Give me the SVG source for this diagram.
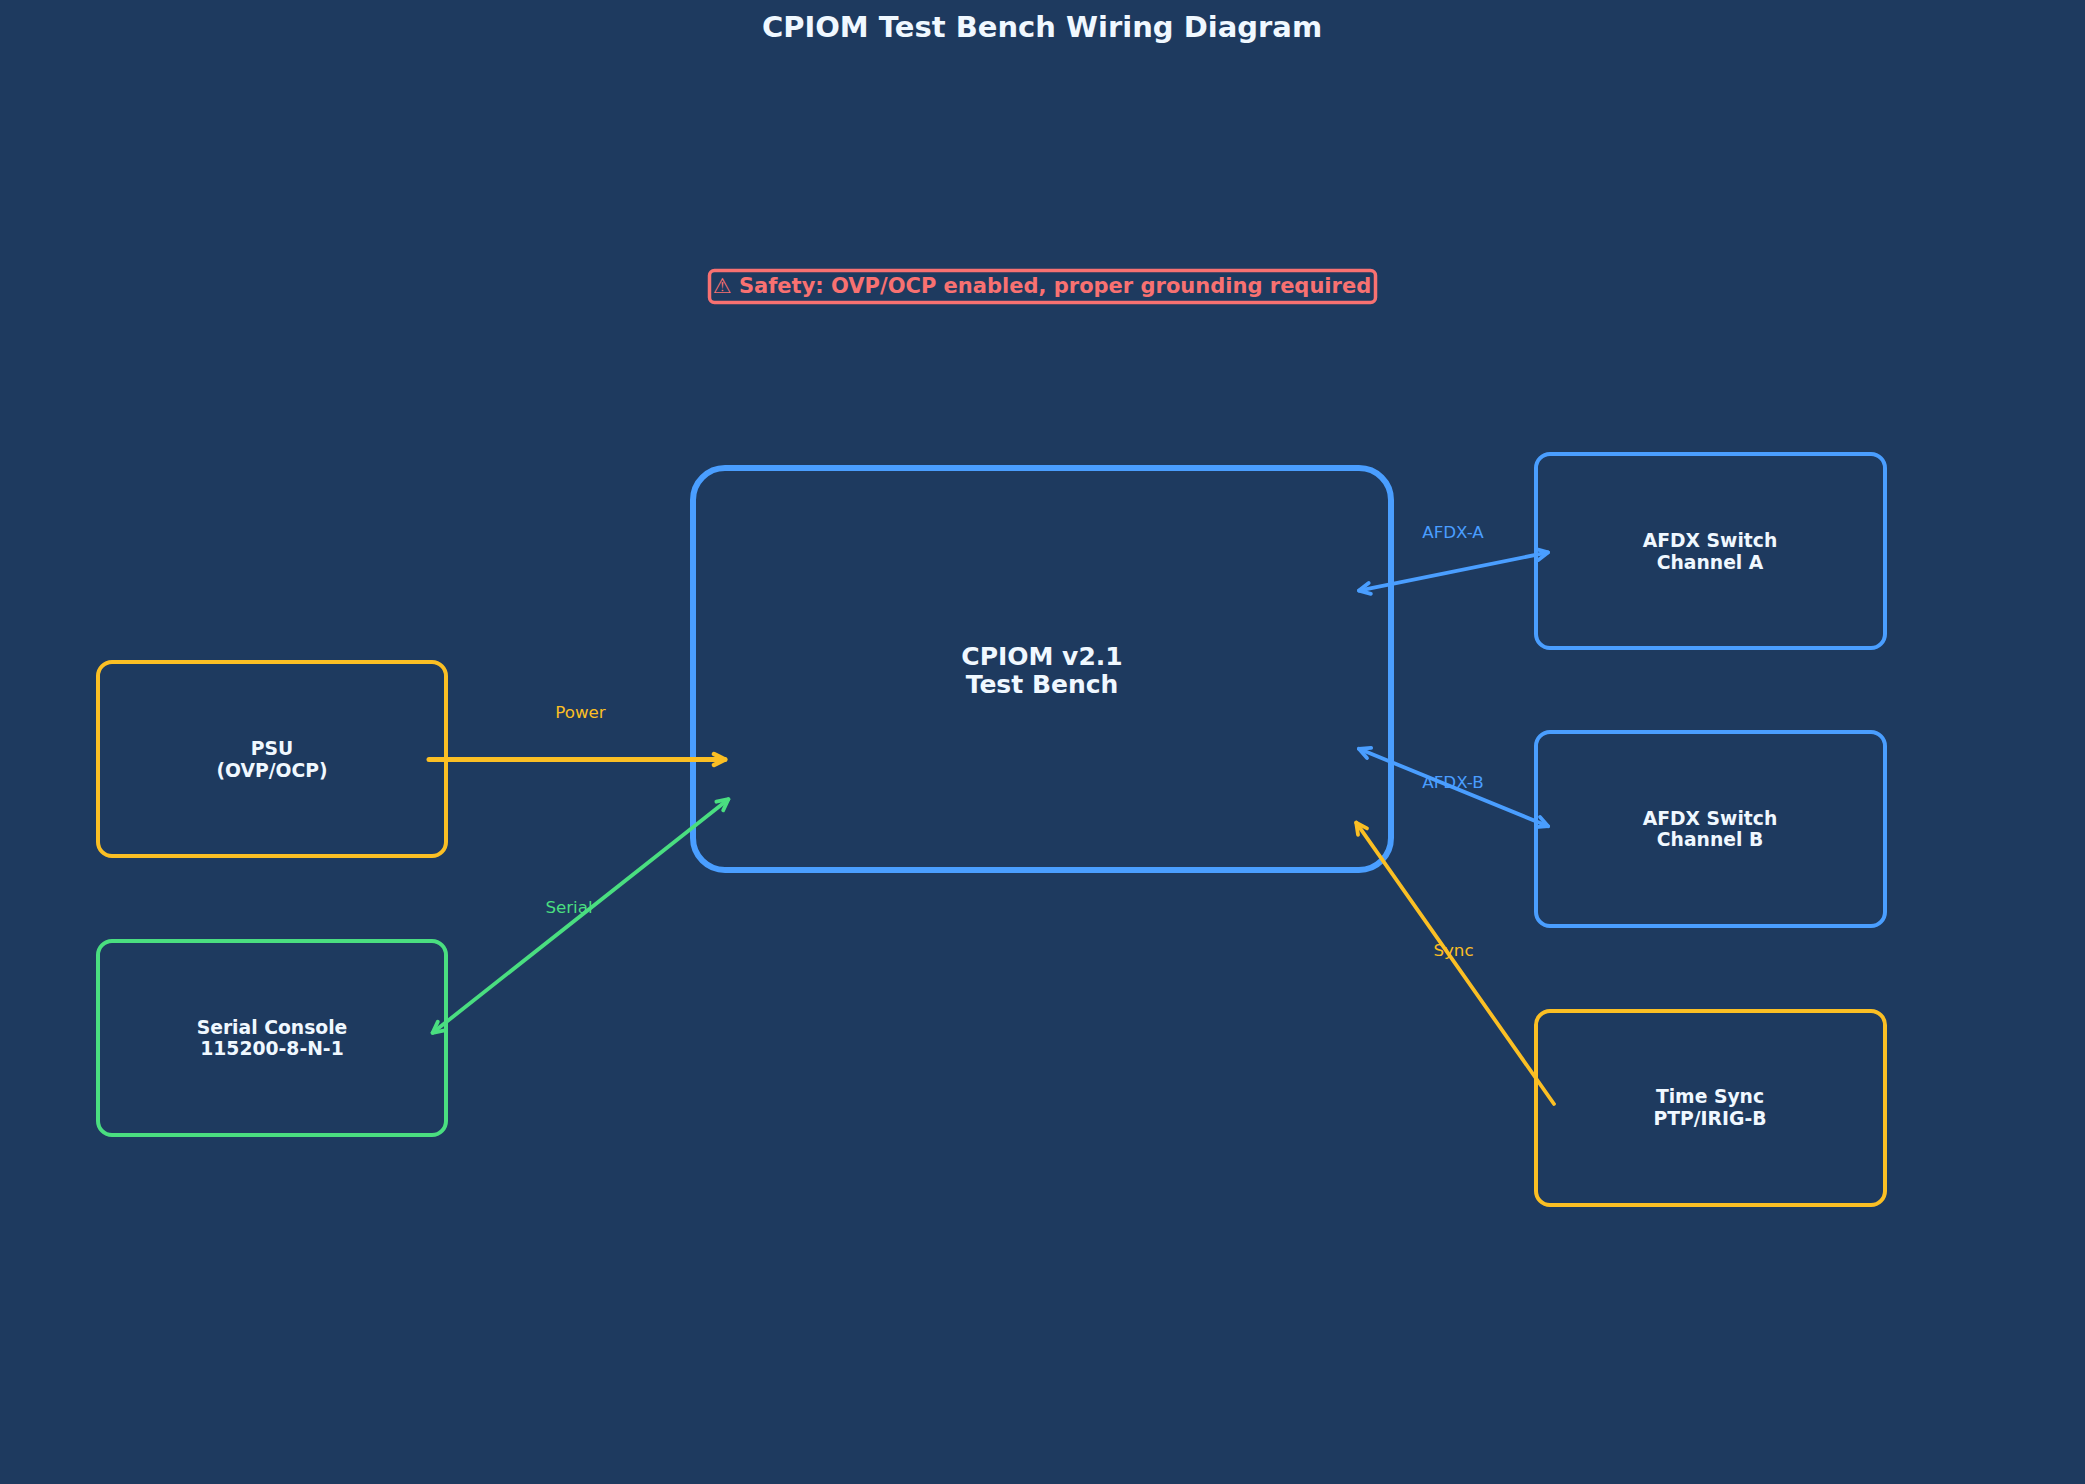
<svg xmlns="http://www.w3.org/2000/svg" width="2085" height="1484" viewBox="0 0 2085 1484">
<style>
  text { font-family: "DejaVu Sans", "Liberation Sans", sans-serif; text-anchor: middle; }
  .title { font-size: 29px; font-weight: bold; fill: #f0f8ff; }
  .safety { font-size: 21px; font-weight: bold; fill: #f87171; }
  .lbl { font-size: 18.75px; font-weight: bold; fill: #f0f8ff; }
  .main { font-size: 25px; font-weight: bold; fill: #f0f8ff; }
  .edge { font-size: 16.7px; }
  .box { fill: #1e3a5f; stroke-width: 4; }
  .conn { fill: none; stroke-linecap: round; }
</style>
<defs>
  <marker id="hY" markerUnits="userSpaceOnUse" viewBox="-16 -10 20 20" refX="0" refY="0" markerWidth="20" markerHeight="20" orient="auto-start-reverse">
    <path d="M-11,-5.5 L0,0 L-11,5.5" fill="none" stroke="#fbbf24" stroke-width="4.5" stroke-linejoin="round" stroke-linecap="round"/>
  </marker>
  <marker id="hY2" markerUnits="userSpaceOnUse" viewBox="-16 -10 20 20" refX="0" refY="0" markerWidth="20" markerHeight="20" orient="auto-start-reverse">
    <path d="M-11,-5.5 L0,0 L-11,5.5" fill="none" stroke="#fbbf24" stroke-width="3.8" stroke-linejoin="round" stroke-linecap="round"/>
  </marker>
  <marker id="hG" markerUnits="userSpaceOnUse" viewBox="-16 -10 20 20" refX="0" refY="0" markerWidth="20" markerHeight="20" orient="auto-start-reverse">
    <path d="M-11,-5.5 L0,0 L-11,5.5" fill="none" stroke="#4ade80" stroke-width="3.8" stroke-linejoin="round" stroke-linecap="round"/>
  </marker>
  <marker id="hB" markerUnits="userSpaceOnUse" viewBox="-16 -10 20 20" refX="0" refY="0" markerWidth="20" markerHeight="20" orient="auto-start-reverse">
    <path d="M-11,-5.5 L0,0 L-11,5.5" fill="none" stroke="#4a9eff" stroke-width="3.8" stroke-linejoin="round" stroke-linecap="round"/>
  </marker>
</defs>
<rect x="0" y="0" width="2085" height="1484" fill="#1e3a5f"/>
<text class="title" x="1042" y="37">CPIOM Test Bench Wiring Diagram</text>
<g id="safety-note">
  <rect x="709.5" y="270.5" width="666" height="32" rx="5" fill="#1e3a5f" stroke="#f87171" stroke-width="3.5"/>
  <text class="safety" x="1042" y="293">⚠ Safety: OVP/OCP enabled, proper grounding required</text>
</g>
<g id="cpiom">
  <rect x="693" y="468" width="698" height="402" rx="32" fill="#1e3a5f" stroke="#4a9eff" stroke-width="6"/>
  <text class="main" x="1042" y="664.5">CPIOM v2.1</text>
  <text class="main" x="1042" y="692.5">Test Bench</text>
</g>
<g id="psu">
  <rect class="box" x="98" y="662" width="348" height="194" rx="14" stroke="#fbbf24"/>
  <text class="lbl" x="272" y="755">PSU</text>
  <text class="lbl" x="272" y="776.5">(OVP/OCP)</text>
</g>
<g id="serial-console">
  <rect class="box" x="98" y="941" width="348" height="194" rx="14" stroke="#4ade80"/>
  <text class="lbl" x="272" y="1033.5">Serial Console</text>
  <text class="lbl" x="272" y="1055">115200-8-N-1</text>
</g>
<g id="afdx-a">
  <rect class="box" x="1536" y="454" width="349" height="194" rx="14" stroke="#4a9eff"/>
  <text class="lbl" x="1710" y="547">AFDX Switch</text>
  <text class="lbl" x="1710" y="568.5">Channel A</text>
</g>
<g id="afdx-b">
  <rect class="box" x="1536" y="732" width="349" height="194" rx="14" stroke="#4a9eff"/>
  <text class="lbl" x="1710" y="824.5">AFDX Switch</text>
  <text class="lbl" x="1710" y="846">Channel B</text>
</g>
<g id="time-sync">
  <rect class="box" x="1536" y="1011" width="349" height="194" rx="14" stroke="#fbbf24"/>
  <text class="lbl" x="1710" y="1102.5">Time Sync</text>
  <text class="lbl" x="1710" y="1124.5">PTP/IRIG-B</text>
</g>
<g id="connectors">
  <line class="conn" x1="429" y1="759.5" x2="725" y2="759.5" stroke="#fbbf24" stroke-width="5" marker-end="url(#hY)"/>
  <text class="edge" x="580.5" y="718" fill="#fbbf24">Power</text>
  <line class="conn" x1="432.6" y1="1032.8" x2="728.4" y2="799.2" stroke="#4ade80" stroke-width="3.8" marker-start="url(#hG)" marker-end="url(#hG)"/>
  <text class="edge" x="569" y="913" fill="#4ade80">Serial</text>
  <line class="conn" x1="1359" y1="590.6" x2="1548" y2="552.4" stroke="#4a9eff" stroke-width="3.8" marker-start="url(#hB)" marker-end="url(#hB)"/>
  <text class="edge" x="1453" y="538" fill="#4a9eff">AFDX-A</text>
  <line class="conn" x1="1358.9" y1="748.8" x2="1548.1" y2="826.2" stroke="#4a9eff" stroke-width="3.8" marker-start="url(#hB)" marker-end="url(#hB)"/>
  <text class="edge" x="1453" y="788" fill="#4a9eff">AFDX-B</text>
  <line class="conn" x1="1554" y1="1104" x2="1356.2" y2="822.6" stroke="#fbbf24" stroke-width="3.8" marker-end="url(#hY2)"/>
  <text class="edge" x="1453.5" y="956" fill="#fbbf24">Sync</text>
</g>
</svg>
